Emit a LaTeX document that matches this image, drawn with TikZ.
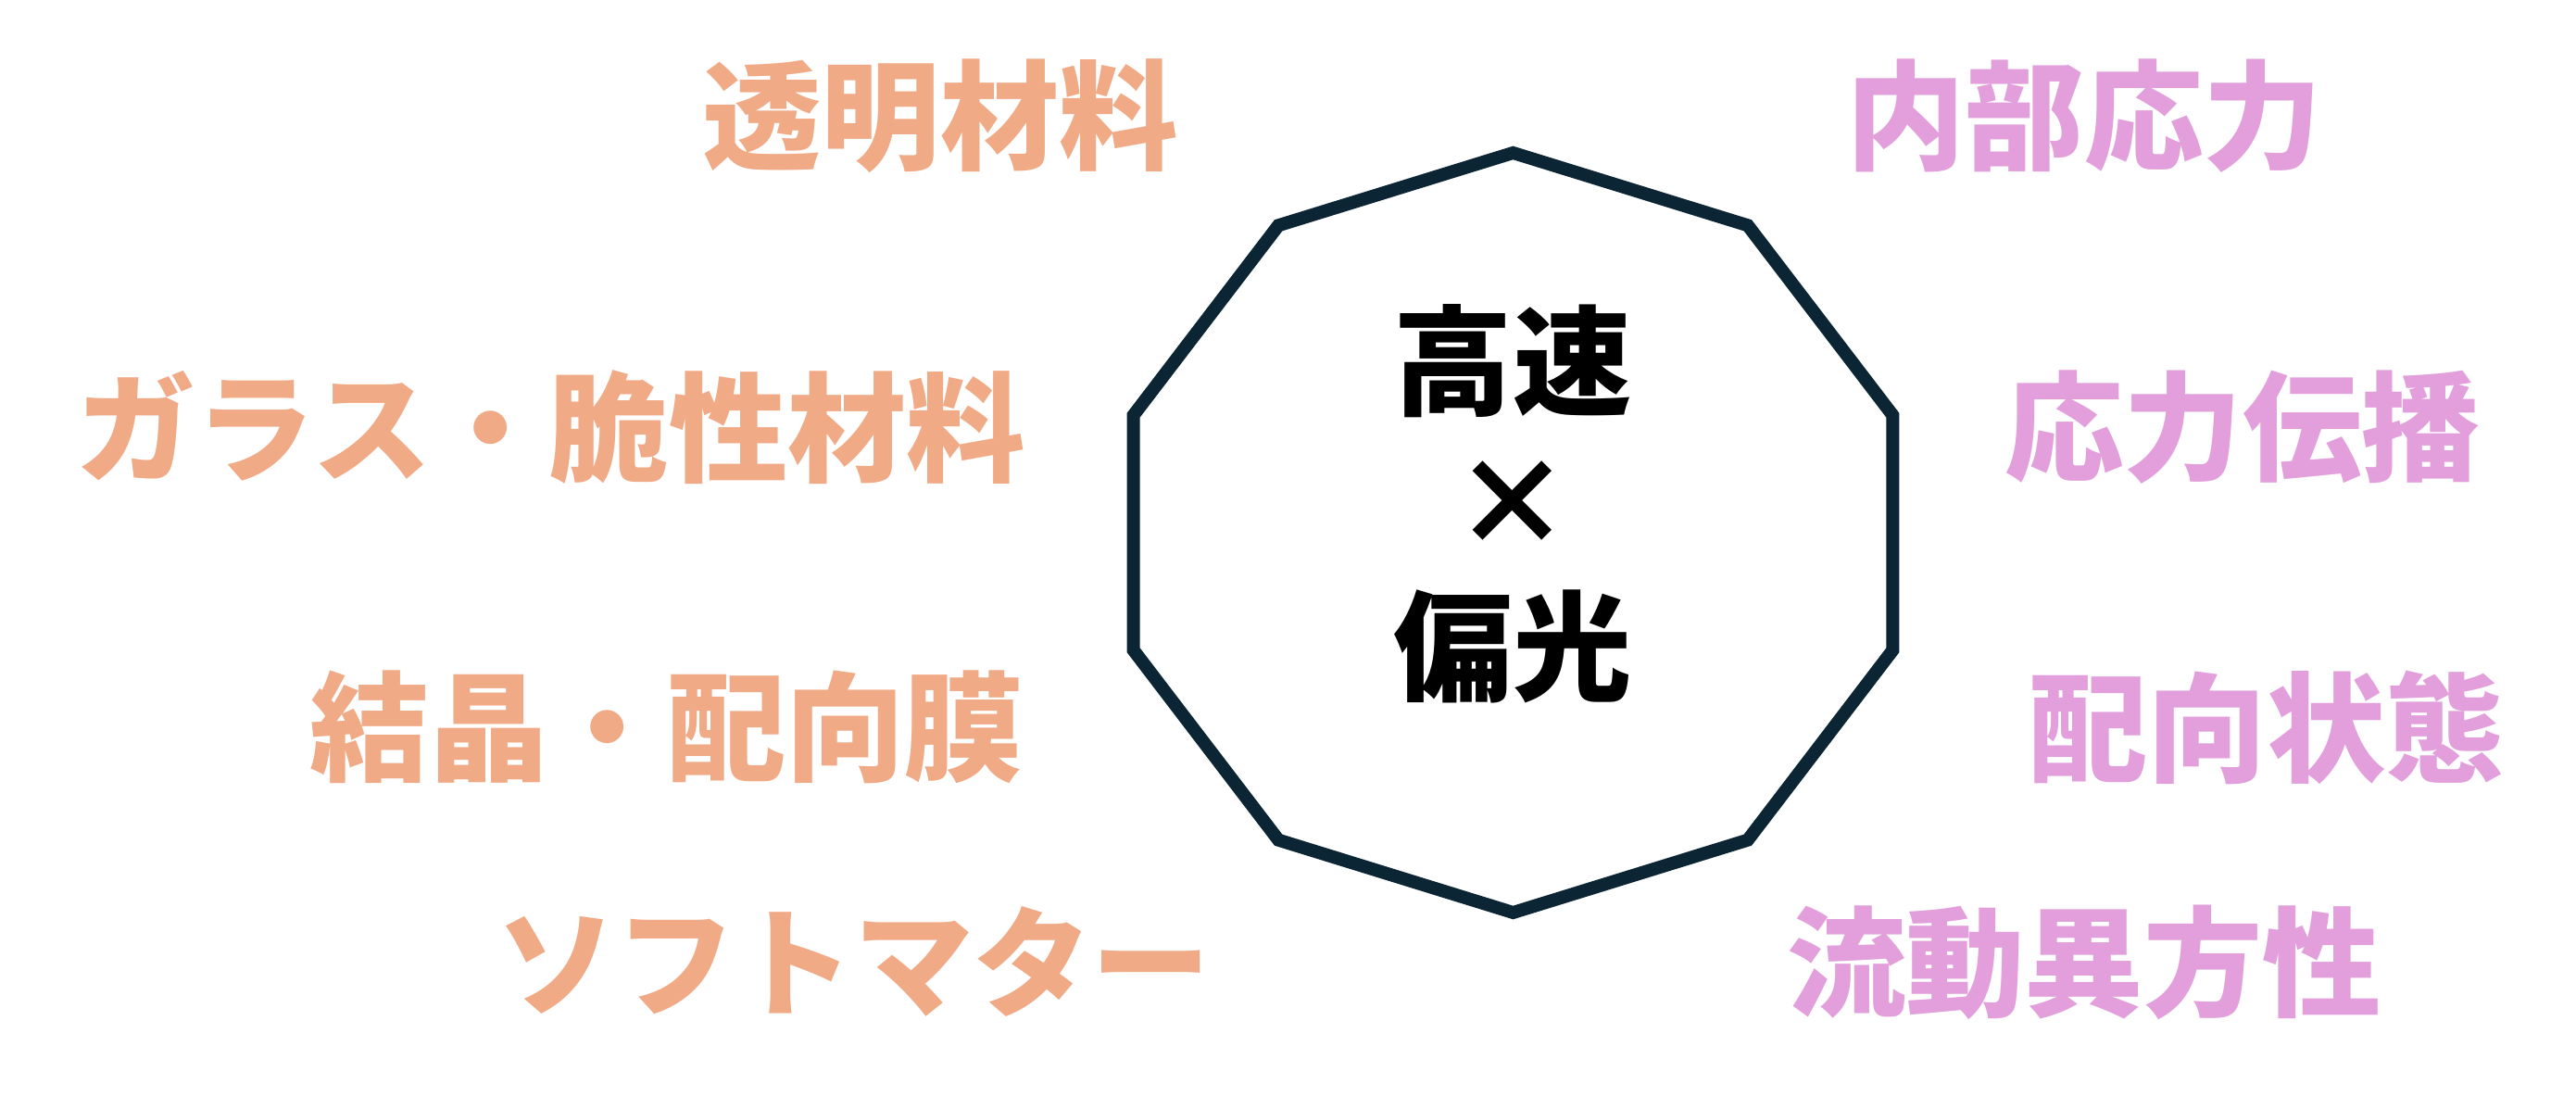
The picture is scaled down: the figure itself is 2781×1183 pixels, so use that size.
\documentclass[tikz,border=0pt]{standalone}
\usepackage{fontspec}
\newfontfamily\jpfont{Noto Sans CJK JP}
\usepackage{tikz}
\definecolor{matorange}{HTML}{F0AA86}
\definecolor{physpink}{HTML}{E29FDB}
\definecolor{hubnavy}{HTML}{0B2535}
\tikzstyle{base} = [inner sep=0pt, anchor=center, font=\jpfont\bfseries\fontsize{36.5}{44}\selectfont]
\tikzstyle{mat} = [base, text=matorange]
\tikzstyle{phys} = [base, text=physpink]
\tikzstyle{core} = [base, text=black]
\tikzstyle{hubline} = [line width=0.14cm, draw=hubnavy, line join=miter]

\begin{document}
\begin{tikzpicture}[x=0.01cm, y=-0.01cm, node distance=1.54cm]
        \useasboundingbox (0,0) rectangle (2781,1183);
        \coordinate (hub) at (1633.5,575);

        % decagon round the centre
        \draw [hubline, shift={(hub)}] (90:431 and 410) \foreach \a in {126,162,...,414} { -- (\a:431 and 410) } -- cycle;

        \node (Cross) [core] at (1633,544) {×};
        \node (Fast) [core, above of=Cross] {高速};
        \node (Polar) [core, below of=Cross] {偏光};

        % materials, left
        \node (Transparent) [mat] at (1015,125) {透明材料};
        \node (Glass) [mat] at (595,461) {ガラス・脆性材料};
        \node (Crystal) [mat] at (720,785) {結晶・配向膜};
        \node (Soft) [mat] at (922,1038) {ソフトマター};

        % phenomena, right
        \node (Stress) [phys] at (2250,125) {内部応力};
        \node (Propagation) [phys] at (2421,461) {応力伝播};
        \node (Orientation) [phys] at (2447,785) {配向状態};
        \node (Flow) [phys] at (2250,1039) {流動異方性};
\end{tikzpicture}
\end{document}
